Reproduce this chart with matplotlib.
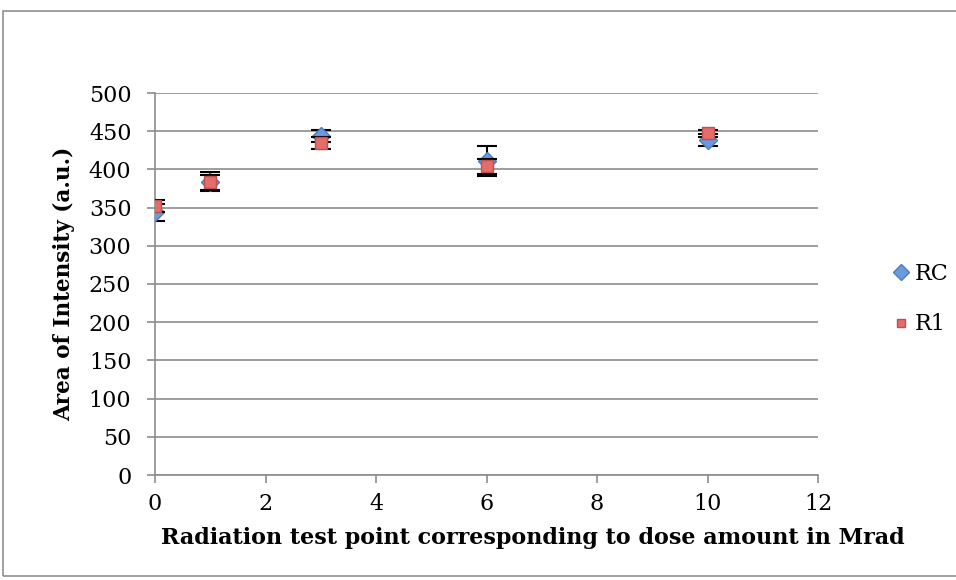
import matplotlib.pyplot as plt
from matplotlib.patches import Rectangle
from matplotlib.lines import Line2D

dose = [0, 1, 3, 6, 10]
rc = [344, 384, 444, 411, 438]
rc_err = [11, 12, 8, 19, 8]
r1 = [352, 383, 435, 404, 447]
r1_err = [8, 10, 8, 10, 5]

plt.rcParams['font.family'] = ['DejaVu Serif']

fig = plt.figure(figsize=(9.56, 5.8), dpi=100)
ax = fig.add_axes([155 / 956, 1 - 475 / 580, (818 - 155) / 956, (475 - 93) / 580])

# outer chart frame
fig.patches.append(Rectangle((3 / 956, 4 / 580), 1.2, 565 / 580, transform=fig.transFigure,
                             fill=False, edgecolor='#909090', linewidth=1.2))

blue, blue_edge = '#6a9be0', '#4a7ebb'
red, red_edge = '#e46c6a', '#c0504d'

ax.errorbar(dose, rc, yerr=rc_err, fmt='D', color=blue, markeredgecolor=blue_edge,
            markersize=9, ecolor='black', elinewidth=1.5, capsize=7, capthick=1.5, zorder=3)
ax.errorbar(dose, r1, yerr=r1_err, fmt='s', color=red, markeredgecolor=red_edge,
            markersize=8, ecolor='black', elinewidth=1.5, capsize=7, capthick=1.5, zorder=4)

ax.set_xlim(0, 12)
ax.set_ylim(0, 500)
ax.set_xticks(range(0, 13, 2))
ax.set_yticks(range(0, 501, 50))
ax.grid(axis='y', color='#8c8c8c', linewidth=1.2)
ax.set_axisbelow(True)
for s in ['top', 'right']:
    ax.spines[s].set_visible(False)
for s in ['left', 'bottom']:
    ax.spines[s].set_color('#8c8c8c')
    ax.spines[s].set_linewidth(1.2)
ax.tick_params(colors='#8c8c8c', labelcolor='black', labelsize=16, length=6, width=1.2)
ax.tick_params(axis='x', pad=7)
ax.tick_params(axis='y', pad=11)

ax.set_xlabel('Radiation test point corresponding to dose amount in Mrad',
              fontsize=16, fontweight='bold')
ax.xaxis.set_label_coords(0.57, -0.135)
ax.set_ylabel('Area of Intensity (a.u.)', fontsize=15.5, fontweight='bold', labelpad=10)

handles = [Line2D([], [], linestyle='none', marker='D', markersize=8, color=blue,
                  markeredgecolor=blue_edge),
           Line2D([], [], linestyle='none', marker='s', markersize=6, color=red,
                  markeredgecolor=red_edge)]
fig.legend(handles, ['RC', 'R1'], loc='center left', bbox_to_anchor=(868 / 956, 1 - 299 / 580),
           frameon=False, fontsize=16, handletextpad=0.0, labelspacing=1.3, handlelength=1.2)

fig.savefig('out.png', dpi=100)
